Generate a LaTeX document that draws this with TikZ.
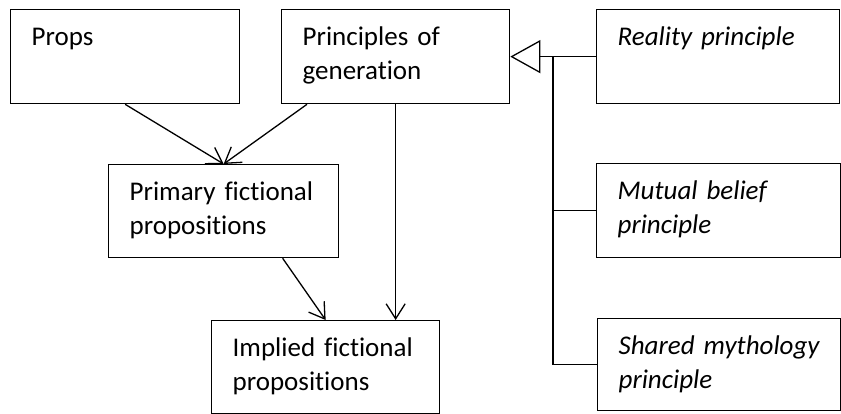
\documentclass[tikz,border=0pt]{standalone}
\usepackage{fontspec}
\setmainfont{Carlito}[Ligatures=CommonOff]
\usetikzlibrary{arrows.meta}
\tikzset{
  box/.style={draw, line width=1.3pt, anchor=north west, align=left,
    inner xsep=21pt, inner ysep=0pt, text height=36pt,
    font=\fontsize{27}{34}\selectfont},
  arr/.style={line width=1.3pt, -{Straight Barb[length=15pt,width=19pt]}},
  gen/.style={line width=1.3pt, -{Triangle[open,length=30pt,width=33pt]}},
  bus/.style={line width=1.4pt},
}

\begin{document}
\begin{tikzpicture}[x=1pt,y=1pt]
			%%%%% START %%%%%
			\useasboundingbox (0,0) rectangle (841,414);
			
			\node[box, text width=187pt, text depth=58pt] (props) at (10,405) {Props};
			\node[box, text width=186pt, text depth=58pt] (princ) at (281,405) {Principles of\\generation};
			\node[box, text width=201pt, text depth=58pt, font=\fontsize{27}{34}\selectfont\itshape] (real) at (596,405) {Reality principle};
			
			\node[box, text width=188pt, text depth=57pt] (prim) at (108,250) {Primary fictional\\propositions};
			\node[box, text width=202pt, text depth=58pt, font=\fontsize{27}{34}\selectfont\itshape] (mutual) at (596,251) {Mutual belief\\principle};
			
			\node[box, text width=186pt, text depth=57pt] (impl) at (211,94) {Implied fictional\\propositions};
			\node[box, text width=201pt, text depth=56pt, font=\fontsize{27}{34}\selectfont\itshape] (shared) at (597,96) {Shared mythology\\principle};
			
			\draw[arr] (props.south) -- (prim.north);
			\draw[arr] ([xshift=26pt]princ.south west) -- (prim.north);
			\draw[arr] (princ.south) -- (princ.south |- impl.north);
			\draw[arr] ([xshift=59pt]prim.south) -- (impl.north);
			
			\draw[gen] (real.west) -- (princ.east);
			\coordinate (join) at (553,358);
			\draw[bus] (mutual.west) -| (join);
			\draw[bus] (shared.west) -| (join);
			
			%%%%% END %%%%%
\end{tikzpicture}
\end{document}
